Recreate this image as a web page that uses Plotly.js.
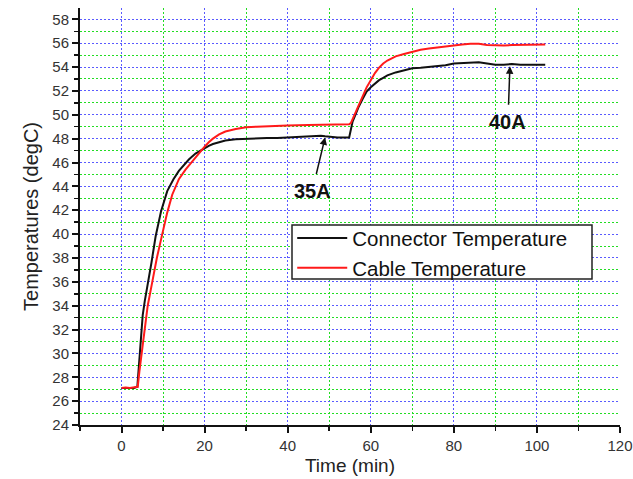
<!DOCTYPE html>
<html>
<head>
<meta charset="utf-8">
<script src="https://cdn.plot.ly/plotly-3.0.1.min.js"></script>
<style>html,body{margin:0;padding:0;background:#fff;}#chart{width:633px;height:479px;}</style>
</head>
<body>
<div id="chart"></div>
<script>
// Connector temperature (black)
const connectorTime = [0, 1, 2, 3, 3.8, 4.2, 4.6, 5.1, 5.6, 6.4, 7.2, 8.2, 9.5, 11, 12.5, 13.8, 15, 16.2, 17.8, 19.4, 21, 22, 23.5, 25, 27.5, 30, 32.5, 35, 37.5, 40, 42.5, 45, 47, 48, 49, 50, 52, 54.8, 55.1, 55.6, 56.2, 57, 58, 59, 60, 61, 62, 63, 64, 66, 68, 70, 72, 74, 76, 78, 80, 82, 84, 86, 88, 90, 92, 94, 96, 98, 100, 102];
const connectorTemp = [27.1, 27.1, 27.15, 27.1, 27.2, 29.0, 30.5, 33.2, 34.4, 35.9, 37.6, 39.8, 41.9, 43.6, 44.6, 45.3, 45.8, 46.25, 46.75, 47.1, 47.4, 47.55, 47.7, 47.85, 47.95, 48.0, 48.0, 48.05, 48.05, 48.1, 48.1, 48.15, 48.2, 48.25, 48.2, 48.15, 48.1, 48.1, 48.6, 49.4, 49.9, 50.6, 51.3, 51.95, 52.3, 52.6, 52.9, 53.1, 53.3, 53.55, 53.75, 53.9, 53.95, 54.0, 54.05, 54.15, 54.3, 54.35, 54.4, 54.4, 54.3, 54.2, 54.2, 54.25, 54.2, 54.2, 54.25, 54.2];

// Cable temperature (red)
const cableTime = [0, 1, 2, 3, 3.9, 4.3, 4.8, 5.5, 6.3, 7.4, 8.5, 9.8, 11, 12.2, 13.8, 15.4, 17, 18.6, 19.8, 21, 22, 23.5, 25, 27.5, 30, 32.5, 35, 40, 45, 50, 54.8, 55.2, 56, 56.5, 57, 58, 59, 60, 61, 62, 63, 64, 66, 68, 70, 72, 74, 76, 78, 80, 82, 84, 86, 88, 90, 92, 94, 96, 98, 100, 102];
const cableTemp = [27.1, 27.15, 27.1, 27.15, 27.2, 28.5, 30.0, 32.0, 34.0, 36.0, 38.0, 40.0, 41.8, 43.3, 44.6, 45.4, 46.1, 46.7, 47.25, 47.7, 48.0, 48.35, 48.6, 48.8, 48.95, 49.0, 49.05, 49.1, 49.15, 49.2, 49.2, 49.3, 49.9, 50.3, 50.7, 51.5, 52.3, 52.9, 53.5, 53.95, 54.3, 54.55, 54.9, 55.1, 55.3, 55.45, 55.55, 55.65, 55.75, 55.8, 55.9, 55.95, 55.95, 55.85, 55.8, 55.8, 55.85, 55.85, 55.85, 55.9, 55.9];

const seriesNames = ["Connector Temperature", "Cable Temperature"];
const xTickVals = [0, 20, 40, 60, 80, 100, 120];
const yTickVals = [24, 26, 28, 30, 32, 34, 36, 38, 40, 42, 44, 46, 48, 50, 52, 54, 56, 58];
const annoLabels = ["35A", "40A"];
const annoPoints = [[49, 48.1], [93.5, 54.06]];

const font = "Liberation Sans, Arial, sans-serif";
const traces = [
  {x: connectorTime, y: connectorTemp, name: seriesNames[0], type: "scatter", mode: "lines",
   line: {color: "#111111", width: 2}},
  {x: cableTime, y: cableTemp, name: seriesNames[1], type: "scatter", mode: "lines",
   line: {color: "#ff1a1a", width: 2}}
];

const gridDot = "2px,2px";
const layout = {
  width: 633, height: 479,
  margin: {l: 80, r: 13, t: 8, b: 54},
  paper_bgcolor: "#ffffff", plot_bgcolor: "#ffffff",
  font: {family: font, color: "#222"},
  showlegend: true,
  legend: {x: 0.393, y: 0.496, xanchor: "left", yanchor: "top",
    borderwidth: 0, bgcolor: "rgba(0,0,0,0)",
    font: {family: font, size: 20.5, color: "#111"}, itemwidth: 50},
  shapes: [
    {type: "rect", xref: "paper", yref: "paper", layer: "above",
     x0: (292 - 80) / 540, x1: (592 - 80) / 540,
     y0: (425 - 279) / 417, y1: (425 - 225) / 417,
     fillcolor: "#ffffff", line: {color: "#222", width: 1.5}}
  ],
  xaxis: {
    range: [-10, 120], tickvals: xTickVals, ticktext: xTickVals.map(String),
    showline: true, linecolor: "#111", linewidth: 2, mirror: false,
    ticks: "outside", ticklen: 6, tickwidth: 2, tickcolor: "#111",
    tickfont: {family: font, size: 15, color: "#333"},
    showgrid: true, gridcolor: "#5a5aff", griddash: gridDot, gridwidth: 1,
    zeroline: false,
    minor: {tick0: 0, dtick: 10, ticks: "outside", ticklen: 4, tickwidth: 1.5, tickcolor: "#111",
      showgrid: true, gridcolor: "#22dd22", griddash: gridDot, gridwidth: 1},
    title: {text: "Time (min)", font: {family: font, size: 19, color: "#222"}, standoff: 6}
  },
  yaxis: {
    range: [24, 58.95], tickvals: yTickVals, ticktext: yTickVals.map(String),
    showline: true, linecolor: "#111", linewidth: 2,
    ticks: "outside", ticklen: 6, tickwidth: 2, tickcolor: "#111",
    tickfont: {family: font, size: 15, color: "#333"},
    showgrid: true, gridcolor: "#5a5aff", griddash: gridDot, gridwidth: 1,
    zeroline: false,
    minor: {tick0: 0, dtick: 1, ticks: "outside", ticklen: 4, tickwidth: 1.5, tickcolor: "#111",
      showgrid: true, gridcolor: "#22dd22", griddash: gridDot, gridwidth: 1},
    title: {text: "Temperatures (degC)", font: {family: font, size: 20, color: "#222"}, standoff: 8}
  },
  annotations: [
    {x: annoPoints[0][0], y: annoPoints[0][1], xref: "x", yref: "y", text: annoLabels[0],
     showarrow: true, arrowhead: 2, arrowsize: 1, arrowwidth: 1.5, arrowcolor: "#111",
     ax: -13, ay: 54, borderpad: 6,
     font: {family: font, size: 20, color: "#111", weight: "bold"}},
    {x: annoPoints[1][0], y: annoPoints[1][1], xref: "x", yref: "y", text: annoLabels[1],
     showarrow: true, arrowhead: 2, arrowsize: 1, arrowwidth: 1.5, arrowcolor: "#111",
     ax: -2, ay: 56, borderpad: 6,
     font: {family: font, size: 20, color: "#111", weight: "bold"}}
  ]
};

Plotly.newPlot("chart", traces, layout, {displayModeBar: false, staticPlot: true});
</script>
</body>
</html>
